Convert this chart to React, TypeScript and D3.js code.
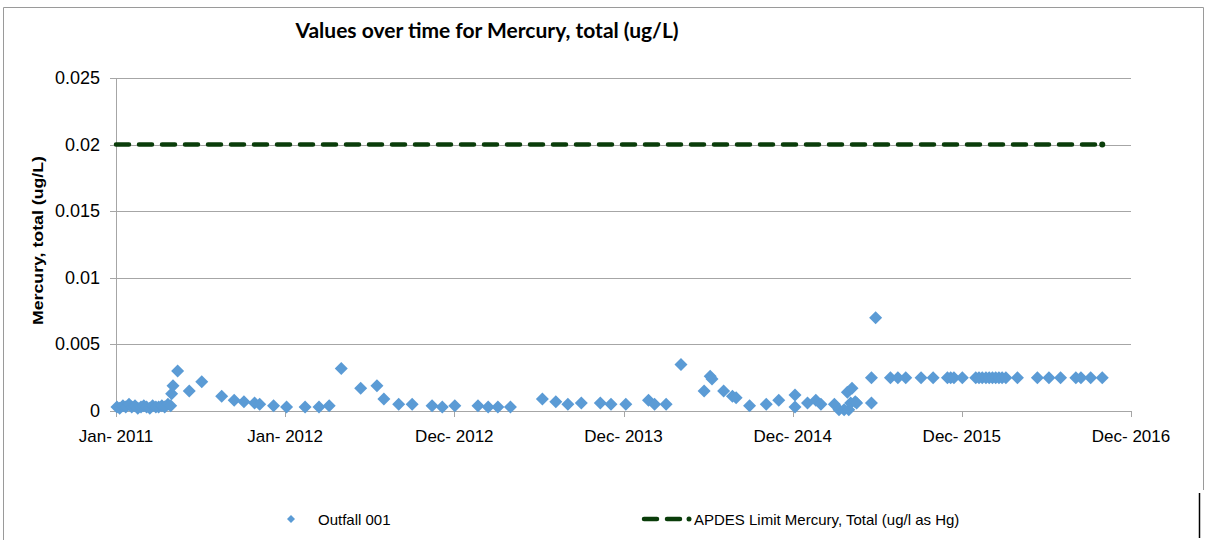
import React from 'react';
import * as d3 from 'd3';

const W = 1206;
const H = 540;

// Outfall 001 sample dates and values (ug/L)
const sampleDates = [
  "2011-01-03","2011-01-09","2011-01-16","2011-01-22","2011-01-29","2011-02-04","2011-02-11","2011-02-17",
  "2011-02-24","2011-03-02","2011-03-08","2011-03-15","2011-03-21","2011-03-28","2011-04-03","2011-04-10",
  "2011-04-16","2011-04-23","2011-04-29","2011-05-01","2011-05-04","2011-05-14","2011-06-08","2011-07-05",
  "2011-08-17","2011-09-13","2011-10-04","2011-10-27","2011-11-07","2011-12-07","2012-01-04","2012-02-13",
  "2012-03-14","2012-04-05","2012-05-01","2012-06-12","2012-07-17","2012-08-01","2012-09-02","2012-10-01",
  "2012-11-13","2012-12-05","2013-01-01","2013-02-20","2013-03-14","2013-04-04","2013-05-01","2013-07-09",
  "2013-08-07","2013-09-02","2013-10-01","2013-11-11","2013-12-04","2014-01-05","2014-02-23","2014-03-08",
  "2014-04-02","2014-05-04","2014-06-23","2014-07-06","2014-07-10","2014-08-04","2014-08-23","2014-08-31",
  "2014-09-29","2014-11-04","2014-12-01","2015-01-05","2015-01-05","2015-02-01","2015-02-19","2015-03-02",
  "2015-03-31","2015-04-10","2015-04-21","2015-04-28","2015-05-01","2015-05-05","2015-05-08","2015-05-15",
  "2015-05-18","2015-06-19","2015-06-19","2015-06-28","2015-07-30","2015-08-15","2015-09-01","2015-10-04",
  "2015-10-30","2015-11-30","2015-12-07","2015-12-14","2016-01-01","2016-01-30","2016-02-06","2016-02-13",
  "2016-02-21","2016-02-28","2016-03-06","2016-03-13","2016-03-20","2016-03-27","2016-04-04","2016-04-29",
  "2016-06-11","2016-07-06","2016-07-31","2016-09-02","2016-09-13","2016-10-04","2016-10-29",
];
const mercuryValues = [
  0.0003,0.0002,0.0004,0.0003,0.0005,0.0003,0.0004,0.0002,
  0.0003,0.0004,0.0003,0.0002,0.0004,0.0003,0.0003,0.0004,
  0.0003,0.0005,0.0004,0.0013,0.0019,0.003,0.0015,0.0022,
  0.0011,0.0008,0.0007,0.0006,0.0005,0.0004,0.0003,0.0003,
  0.0003,0.0004,0.0032,0.0017,0.0019,0.0009,0.0005,0.0005,
  0.0004,0.0003,0.0004,0.0004,0.0003,0.0003,0.0003,0.0009,
  0.0007,0.0005,0.0006,0.0006,0.0005,0.0005,0.0008,0.0005,
  0.0005,0.0035,0.0015,0.0026,0.0024,0.0015,0.0011,0.001,
  0.0004,0.0005,0.0008,0.0012,0.0003,0.0006,0.0008,0.0005,
  0.0005,0.0001,0.0001,0.0014,0.0001,0.0006,0.0017,0.0007,
  0.0006,0.0025,0.0006,0.007,0.0025,0.0025,0.0025,0.0025,
  0.0025,0.0025,0.0025,0.0025,0.0025,0.0025,0.0025,0.0025,
  0.0025,0.0025,0.0025,0.0025,0.0025,0.0025,0.0025,0.0025,
  0.0025,0.0025,0.0025,0.0025,0.0025,0.0025,0.0025,
];

// APDES limit series
const limitDates = ["2011-01-01", "2016-10-29"];
const limitValues = [0.02, 0.02];

const yTickValues = [0, 0.005, 0.01, 0.015, 0.02, 0.025];
const yTickLabels = ["0", "0.005", "0.01", "0.015", "0.02", "0.025"];
const xTickDates = ["2011-01-01", "2012-01-01", "2012-12-31", "2013-12-31", "2014-12-31", "2015-12-31", "2016-12-30"];
const xTickLabels = ["Jan- 2011", "Jan- 2012", "Dec- 2012", "Dec- 2013", "Dec- 2014", "Dec- 2015", "Dec- 2016"];
const seriesNames = ["Outfall 001", "APDES Limit Mercury, Total (ug/l as Hg)"];

const titleText = "Values over time for Mercury, total (ug/L)";
const yAxisTitle = "Mercury, total (ug/L)";

const parse = d3.utcParse("%Y-%m-%d");

const PLOT = { left: 116, right: 1131, top: 78, bottom: 411 };
const BLUE = "#5b9bd5";
const GREEN = "#0a3d0a";
const GRID = "#a6a6a6";
const FONT = "'Liberation Sans', Arial, sans-serif";

const diamond = (cx: number, cy: number, r: number) =>
  `M${cx},${cy - r}L${cx + r},${cy}L${cx},${cy + r}L${cx - r},${cy}Z`;

export default function App() {
  const x = d3
    .scaleUtc()
    .domain([parse(xTickDates[0])!, parse(xTickDates[xTickDates.length - 1])!])
    .range([PLOT.left, PLOT.right]);
  const y = d3.scaleLinear().domain([0, 0.025]).range([PLOT.bottom, PLOT.top]);

  const points = sampleDates.map((d, i) => ({ date: parse(d)!, value: mercuryValues[i] }));
  const limit = limitDates.map((d, i) => ({ date: parse(d)!, value: limitValues[i] }));
  const limitLine = d3
    .line<{ date: Date; value: number }>()
    .x((d) => x(d.date))
    .y((d) => y(d.value));
  const lastLimit = limit[limit.length - 1];

  return (
    <svg
      width={W}
      height={H}
      style={{ position: "absolute", left: 0, top: 0, background: "#fff" }}
      fontFamily={FONT}
    >
      <rect x={0} y={0} width={W} height={H} fill="#fff" />
      {/* chart border */}
      <path d={`M3.5,${H}V7.5H1203.5V490`} fill="none" stroke="#9a9a9a" strokeWidth={1} />
      <line x1={1199.5} x2={1199.5} y1={493} y2={538} stroke="#000" strokeWidth={1.5} />

      {/* title */}
      <text x={487} y={38} textAnchor="middle" fontFamily="Lato, 'Open Sans', sans-serif" fontWeight="bold" fontSize={21} fill="#000">
        {titleText}
      </text>

      {/* gridlines */}
      {yTickValues.map((v) => (
        <line key={v} x1={PLOT.left - 6} x2={PLOT.right} y1={Math.round(y(v)) + 0.5} y2={Math.round(y(v)) + 0.5} stroke={GRID} strokeWidth={1} />
      ))}
      {/* y axis line */}
      <line x1={PLOT.left + 0.5} x2={PLOT.left + 0.5} y1={PLOT.top} y2={PLOT.bottom} stroke={GRID} />
      {/* x tick marks */}
      {xTickDates.map((d) => {
        const px = Math.round(x(parse(d)!)) + 0.5;
        return <line key={d} x1={px} x2={px} y1={PLOT.bottom} y2={PLOT.bottom + 6} stroke={GRID} />;
      })}

      {/* y tick labels */}
      {yTickValues.map((v, i) => (
        <text key={v} x={100} y={y(v) + 6} textAnchor="end" fontSize={18} fill="#000">
          {yTickLabels[i]}
        </text>
      ))}
      {/* x tick labels */}
      {xTickDates.map((d, i) => (
        <text key={d} x={x(parse(d)!)} y={442} textAnchor="middle" fontSize={17} fill="#000">
          {xTickLabels[i]}
        </text>
      ))}

      {/* y axis title */}
      <text
        transform={`translate(43,${(PLOT.top + PLOT.bottom) / 2 - 4}) rotate(-90)`}
        textAnchor="middle"
        fontWeight="bold"
        fontSize={15}
        textLength={169}
        lengthAdjust="spacingAndGlyphs"
        fill="#000"
      >
        {yAxisTitle}
      </text>

      {/* limit line */}
      <path
        d={limitLine(limit) || ""}
        fill="none"
        stroke={GREEN}
        strokeWidth={4.5}
        strokeDasharray="13 10"
        strokeLinecap="round"
      />
      <circle cx={x(lastLimit.date)} cy={y(lastLimit.value)} r={3} fill={GREEN} />

      {/* data points */}
      {points.map((p, i) => (
        <path key={i} d={diamond(x(p.date), y(p.value), 6.5)} fill={BLUE} />
      ))}

      {/* legend */}
      <path d={diamond(291, 519, 4)} fill={BLUE} />
      <text x={318} y={525} fontSize={15} fill="#000">{seriesNames[0]}</text>
      <line x1={644} x2={680} y1={519} y2={519} stroke={GREEN} strokeWidth={4.5} strokeDasharray="13 10" strokeLinecap="round" />
      <circle cx={689} cy={519} r={2.5} fill={GREEN} />
      <text x={694} y={525} fontSize={15} fill="#000">{seriesNames[1]}</text>
    </svg>
  );
}
